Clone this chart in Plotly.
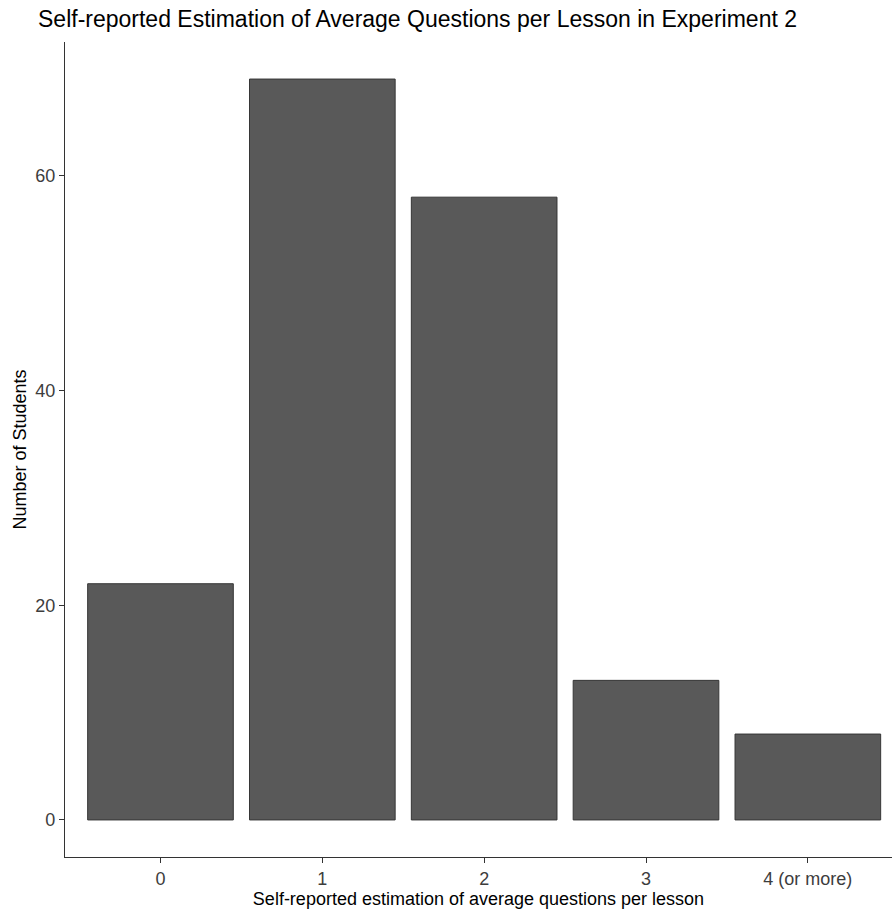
import plotly.graph_objects as go

categories = ["0", "1", "2", "3", "4 (or more)"]
counts = [22, 69, 58, 13, 8]
y_ticks = [0, 20, 40, 60]

fig = go.Figure(go.Bar(
    x=list(range(len(categories))),
    y=counts,
    width=0.9,
    marker=dict(color="#595959", line=dict(color="#363636", width=1)),
))

fig.update_layout(
    width=892, height=909,
    margin=dict(l=65, r=0, t=42, b=52),
    paper_bgcolor="white", plot_bgcolor="white",
    font=dict(family="Liberation Sans, Arial, sans-serif"),
    title=dict(text="Self-reported Estimation of Average Questions per Lesson in Experiment 2",
               x=38/892, xanchor="left", y=1-19/909, yanchor="middle",
               font=dict(size=23, color="black")),
    showlegend=False,
)
fig.update_xaxes(
    range=[-0.59, 4.52],
    tickmode="array", tickvals=list(range(len(categories))), ticktext=categories,
    showline=True, linecolor="#333333", linewidth=1.2,
    ticks="outside", ticklen=5, tickcolor="#333333",
    tickfont=dict(size=18, color="#3d3d3d"),
    showgrid=False, zeroline=False,
    title=dict(text="Self-reported estimation of average questions per lesson",
               font=dict(size=18, color="black"), standoff=4),
)
fig.update_yaxes(
    range=[-3.45, 72.45],
    tickmode="array", tickvals=y_ticks,
    showline=True, linecolor="#333333", linewidth=1.2,
    ticks="outside", ticklen=5, tickcolor="#333333",
    tickfont=dict(size=18, color="#3d3d3d"),
    showgrid=False, zeroline=False,
    title=dict(text="Number of Students", font=dict(size=18, color="black"), standoff=3),
)

fig.write_html("out.html", config={"displayModeBar": False},
               post_script="document.body.style.margin='0';")
